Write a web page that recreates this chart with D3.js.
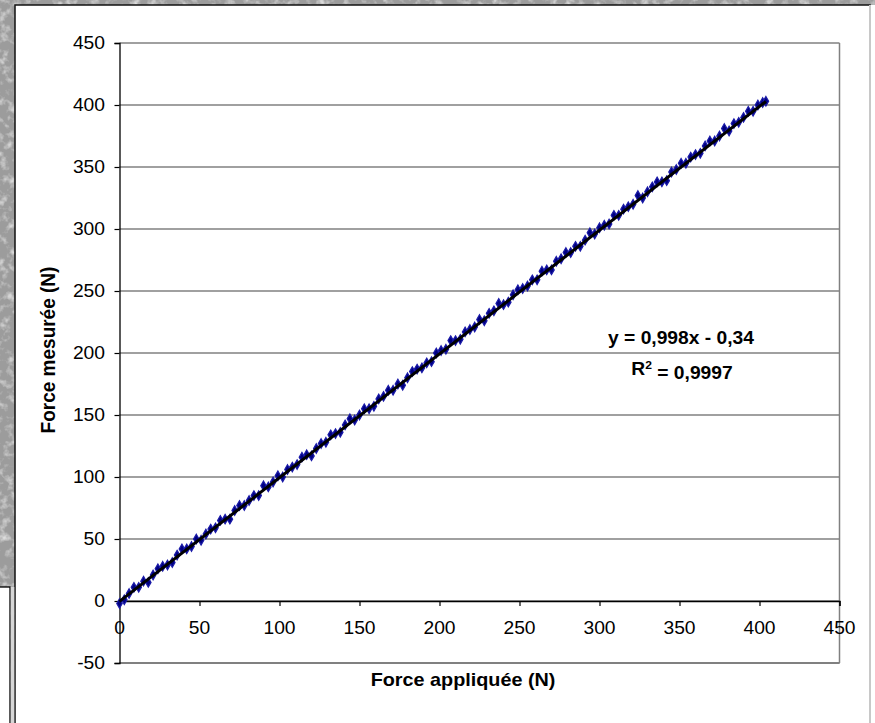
<!DOCTYPE html>
<html lang="fr">
<head>
<meta charset="UTF-8">
<title>Force mesurée</title>
<script src="https://cdn.jsdelivr.net/npm/d3@7/dist/d3.min.js"></script>
<style>
body{margin:0;background:#fff;}
text{font-family:"Liberation Sans",Arial,sans-serif;fill:#000;}
</style>
</head>
<body>
<div id="graf"></div>
<script>
// donnees
forceAppliquee=[0,3,6,9,12,15,18,21,24,27,30,33,36,39,42,45,48,51,54,57,60,63,66,69,72,75,78,81,84,87,90,93,96,99,102,105,108,111,114,117,120,123,126,129,132,135,138,141,144,147,150,153,156,159,162,165,168,171,174,177,180,183,186,189,192,195,198,201,204,207,210,213,216,219,222,225,228,231,234,237,240,243,246,249,252,255,258,261,264,267,270,273,276,279,282,285,288,291,294,297,300,303,306,309,312,315,318,321,324,327,330,333,336,339,342,345,348,351,354,357,360,363,366,369,372,375,378,381,384,387,390,393,396,399,402,404]
forceMesuree=[-2,1,6,11,11,16,15,21,26,28,29,31,37,42,42,44,50,49,54,58,59,65,66,66,73,77,77,81,85,85,93,92,96,101,100,106,108,110,116,118,117,123,127,128,134,135,136,142,147,146,150,155,155,157,163,165,170,170,175,174,180,185,187,188,192,193,200,202,203,210,210,211,217,219,221,227,226,232,234,240,239,241,247,251,252,254,259,259,266,267,267,274,276,281,281,286,286,291,297,296,301,303,304,311,311,316,318,320,327,325,330,334,338,338,339,346,348,353,353,358,360,361,367,371,371,375,381,379,385,386,390,395,395,400,402,403]
// courbe de tendance affichee
pente=0.998
ordonnee=-0.34
r2='0,9997'
ticksX=[0,50,100,150,200,250,300,350,400,450]
ticksY=[-50,0,50,100,150,200,250,300,350,400,450]

ancho=875
alto=723
sx=1.1 // l'image source est un peu etiree en largeur

svg=d3.select('#graf').append('svg')
	.attr('width',ancho)
	.attr('height',alto)

// fond gris texture
defs=svg.append('defs')
f=defs.append('filter').attr('id','bruit').attr('x',0).attr('y',0).attr('width','100%').attr('height','100%')
f.append('feTurbulence').attr('type','fractalNoise').attr('baseFrequency','0.12').attr('numOctaves',3).attr('seed',7)
f.append('feColorMatrix').attr('type','matrix')
	.attr('values','0 0 0 0 1  0 0 0 0 1  0 0 0 0 1  2.2 0 0 0 -1.05')
svg.append('rect').attr('width',ancho).attr('height',alto).attr('fill','#9c9c9c')
svg.append('rect').attr('width',ancho).attr('height',alto).attr('filter','url(#bruit)').attr('opacity',0.75)

// cadre du graphique
svg.append('rect').attr('x',15).attr('y',5).attr('width',855).attr('height',730)
	.attr('fill','#fff').attr('stroke','#111').attr('stroke-width',1.5)
svg.append('line').attr('x1',870).attr('x2',870).attr('y1',5).attr('y2',alto).attr('stroke','#c8c8c8').attr('stroke-width',2)
svg.append('rect').attr('x',871).attr('y',5).attr('width',4).attr('height',alto).attr('fill','#fff')
// petite boite a gauche
svg.append('rect').attr('x',-2).attr('y',587).attr('width',12).attr('height',150)
	.attr('fill','#fff').attr('stroke','#000').attr('stroke-width',1.3)
svg.append('rect').attr('x',10.7).attr('y',587).attr('width',3.6).attr('height',150).attr('fill','#d6d6d6')

x=d3.scaleLinear().domain([0,450]).range([119.5,839.5])
y=d3.scaleLinear().domain([-50,450]).range([663,43])

// grille
svg.append('g').selectAll('line').data(ticksY).enter().append('line')
	.attr('x1',x(0)).attr('x2',x(450))
	.attr('y1',function(d){return y(d)}).attr('y2',function(d){return y(d)})
	.attr('stroke','#808080').attr('stroke-width',1.3)
svg.append('line').attr('x1',x(450)).attr('x2',x(450)).attr('y1',y(450)).attr('y2',y(-50))
	.attr('stroke','#808080').attr('stroke-width',1.5)
svg.append('line').attr('x1',x(0)).attr('x2',x(450)).attr('y1',y(-50)).attr('y2',y(-50))
	.attr('stroke','#808080').attr('stroke-width',2)

// axes
axeY=svg.append('g').attr('transform','translate('+x(0)+',0)')
	.call(d3.axisLeft(y).tickValues(ticksY).tickSize(5).tickFormat(''))
axeX=svg.append('g').attr('transform','translate(0,'+y(0)+')')
	.call(d3.axisBottom(x).tickValues(ticksX).tickSize(5).tickFormat(''))
svg.selectAll('.domain').attr('stroke','#000').attr('stroke-width',1.3)
svg.selectAll('.tick line').attr('stroke','#000').attr('stroke-width',1.2)

function texte(px,py,t,opts){
	g=svg.append('g').attr('transform','translate('+px+','+py+') scale('+sx+',1)'+(opts.rot?' rotate(-90)':''))
	return g.append('text').text(t)
		.attr('text-anchor',opts.anchor||'middle')
		.attr('dy','0.35em')
		.attr('font-size',opts.size||17.5)
		.attr('font-weight',opts.bold?'bold':'normal')
}
ticksY.forEach(function(d){texte(105,y(d),d,{anchor:'end'})})
ticksX.forEach(function(d){texte(x(d),628,d,{})})

texte(463,680,'Force appliquée (N)',{bold:true,size:18})
texte(48,350,'Force mesurée (N)',{bold:true,rot:true,size:19})

// points
sym=d3.symbol().type(d3.symbolDiamond).size(26)
svg.append('g').selectAll('path').data(forceAppliquee).enter().append('path')
	.attr('d',sym)
	.attr('transform',function(d,i){return 'translate('+x(d)+','+y(forceMesuree[i])+')'})
	.attr('fill','#000080')
	.attr('stroke','#1a1aa8').attr('stroke-width',1.2)

// tendance
xmax=d3.max(forceAppliquee)
svg.append('line')
	.attr('x1',x(0)).attr('y1',y(ordonnee))
	.attr('x2',x(xmax)).attr('y2',y(pente*xmax+ordonnee))
	.attr('stroke','#000').attr('stroke-width',3)

// equation
texte(681,338,'y = '+String(pente).replace('.',',')+'x - '+String(-ordonnee).replace('.',','),{bold:true})
eq=texte(682,369,'',{bold:true})
eq.append('tspan').text('R')
eq.append('tspan').text('2').attr('font-size',11).attr('dy','-0.6em')
eq.append('tspan').text(' = '+r2).attr('dy','0.6em')
</script>
</body>
</html>
